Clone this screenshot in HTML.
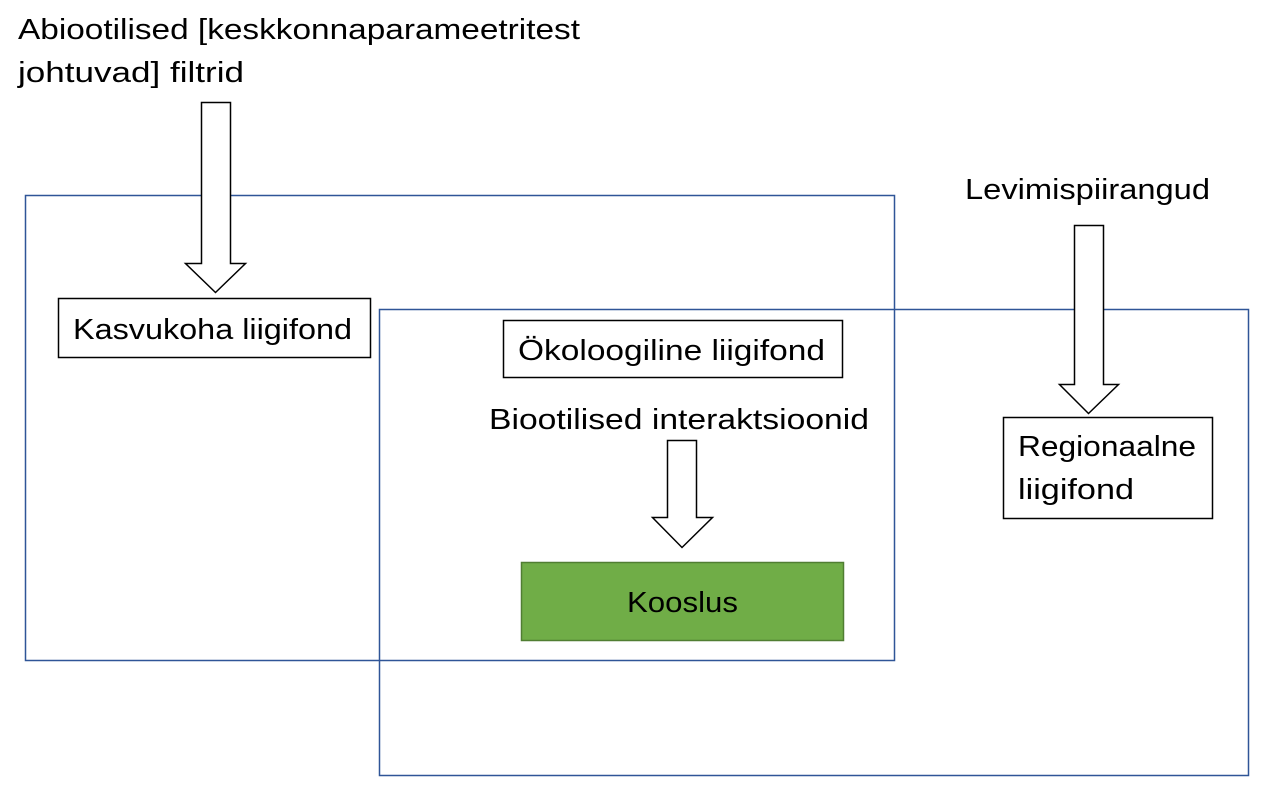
<!DOCTYPE html>
<html><head><meta charset="utf-8"><style>
html,body{margin:0;padding:0;background:#fff;}
svg{display:block;}
text{font-family:"Liberation Sans",sans-serif;font-size:29px;fill:#000;}
</style></head><body>
<svg width="1274" height="802" viewBox="0 0 1274 802">
<rect x="25.5" y="195.5" width="869" height="465" fill="none" stroke="#2F5597" stroke-width="1.5"/>
<rect x="379.5" y="309.5" width="869" height="466" fill="none" stroke="#2F5597" stroke-width="1.5"/>

<text x="18" y="39" textLength="562" lengthAdjust="spacingAndGlyphs">Abiootilised [keskkonnaparameetritest</text>
<text x="18" y="82" textLength="226" lengthAdjust="spacingAndGlyphs">johtuvad] filtrid</text>
<polygon points="201.5,102.5 230.5,102.5 230.5,263.5 245.5,263.5 215.5,292.5 185.5,263.5 201.5,263.5" fill="#fff" stroke="#000" stroke-width="1.5"/>

<rect x="58.5" y="298.5" width="312" height="59" fill="#fff" stroke="#000" stroke-width="1.5"/>
<text x="73" y="339" textLength="279" lengthAdjust="spacingAndGlyphs">Kasvukoha liigifond</text>

<rect x="503.5" y="320.5" width="339" height="57" fill="#fff" stroke="#000" stroke-width="1.5"/>
<text x="518" y="360" textLength="307" lengthAdjust="spacingAndGlyphs">Ökoloogiline liigifond</text>

<text x="489" y="429" textLength="380" lengthAdjust="spacingAndGlyphs">Biootilised interaktsioonid</text>
<polygon points="667.5,440.5 696.5,440.5 696.5,517.5 712.5,517.5 682,547.5 652.5,517.5 667.5,517.5" fill="#fff" stroke="#000" stroke-width="1.5"/>

<rect x="521.5" y="562.5" width="322" height="78" fill="#70AD47" stroke="#507E32" stroke-width="1.5"/>
<text x="627" y="612" textLength="111" lengthAdjust="spacingAndGlyphs">Kooslus</text>

<text x="965" y="199" textLength="245" lengthAdjust="spacingAndGlyphs">Levimispiirangud</text>
<polygon points="1074.5,225.5 1103.5,225.5 1103.5,384.5 1118.5,384.5 1088.5,413.5 1059.5,384.5 1074.5,384.5" fill="#fff" stroke="#000" stroke-width="1.5"/>

<rect x="1003.5" y="417.5" width="209" height="101" fill="#fff" stroke="#000" stroke-width="1.5"/>
<text x="1018" y="456" textLength="178" lengthAdjust="spacingAndGlyphs">Regionaalne</text>
<text x="1018" y="499" textLength="116" lengthAdjust="spacingAndGlyphs">liigifond</text>
</svg>
</body></html>
